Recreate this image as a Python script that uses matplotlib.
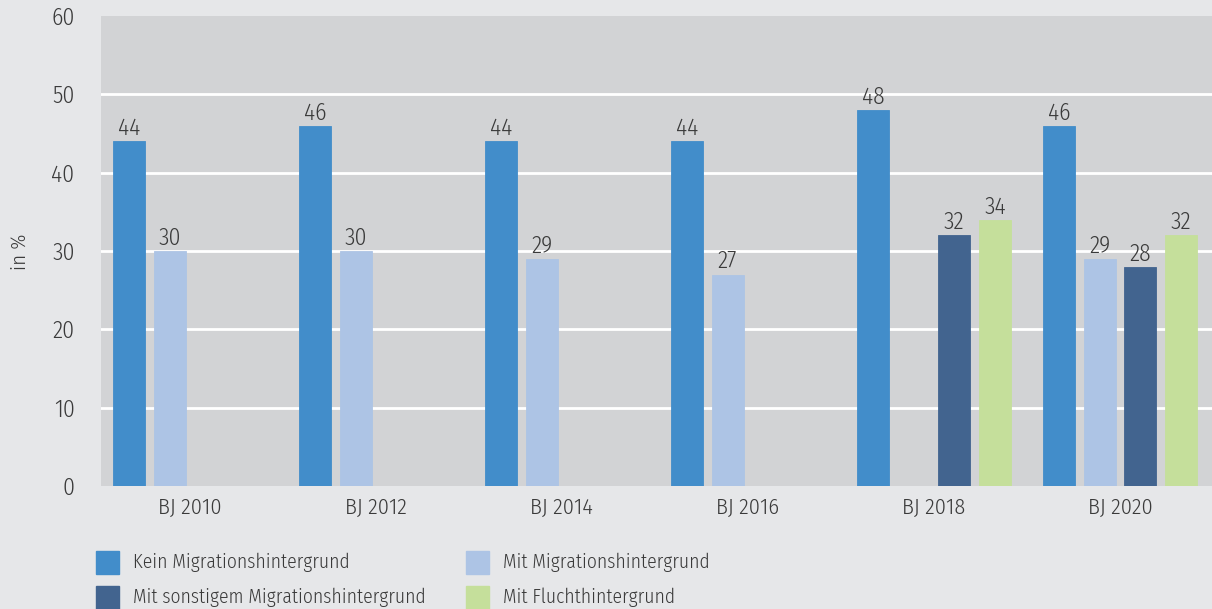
import numpy as np
import matplotlib
matplotlib.use("Agg")
import matplotlib.pyplot as plt
from matplotlib.patches import Rectangle

# data
years = ["BJ 2010", "BJ 2012", "BJ 2014", "BJ 2016", "BJ 2018", "BJ 2020"]
kein = [44, 46, 44, 44, 48, 46]
mit = [30, 30, 29, 27, np.nan, 29]
sonstig = [np.nan, np.nan, np.nan, np.nan, 32, 28]
flucht = [np.nan, np.nan, np.nan, np.nan, 34, 32]

series_names = ["Kein Migrationshintergrund", "Mit Migrationshintergrund",
                "Mit sonstigem Migrationshintergrund", "Mit Fluchthintergrund"]
series_colors = ["#428dca", "#adc4e5", "#42648f", "#c5df9b"]
yticks = [0, 10, 20, 30, 40, 50, 60]

plt.rcParams["font.family"] = ["Fira Sans Condensed", "DejaVu Sans"]
plt.rcParams["font.weight"] = 300
txt_col = "#3a3a3a"
fs_num = 17
fs_x = 16
fs_leg = 14

fig = plt.figure(figsize=(12.12, 6.09), dpi=100, facecolor="#e6e7e9")
ax = fig.add_axes([101/1212, 1-486/609, 1-101/1212, 470/609])
ax.set_facecolor("#d2d3d5")

x = np.arange(len(years))
slot = 0.219
bw = 0.172
all_series = [kein, mit, sonstig, flucht]

for yv in yticks[1:-1]:
    ax.axhline(yv, color="white", lw=2, zorder=1)

for i, (vals, col) in enumerate(zip(all_series, series_colors)):
    vals = np.array(vals, dtype=float)
    ok = ~np.isnan(vals)
    xs = x[ok] + (i - 1.5) * slot
    bars = ax.bar(xs, vals[ok], width=bw, color=col, zorder=2,
                  edgecolor=col, linewidth=0.6)
    ax.bar_label(bars, labels=[f"{v:.0f}" for v in vals[ok]], padding=1,
                 fontsize=fs_num, color=txt_col)

ax.set_ylim(0, 60)
ax.set_xlim(-0.478, 5.495)
ax.set_yticks(yticks)
ax.set_xticks(x)
ax.set_xticklabels(years)
ax.tick_params(axis="both", length=0, labelcolor=txt_col)
ax.tick_params(axis="y", pad=19, labelsize=fs_num)
ax.tick_params(axis="x", pad=8, labelsize=fs_x)
for s in ax.spines.values():
    s.set_visible(False)

fig.text(20/1212, 1-252/609, "in %", rotation=90, ha="center", va="center",
         fontsize=fs_leg + 1, color=txt_col)

# legend (drawn by hand, 2 columns)
leg_pos = [(96, 562), (466, 562), (96, 597), (466, 597)]
for (px, py), name, col in zip(leg_pos, series_names, series_colors):
    fig.add_artist(Rectangle((px/1212, 1-(py+11.5)/609), 23/1212, 23/609,
                             transform=fig.transFigure, color=col))
    fig.text((px+37)/1212, 1-py/609, name, ha="left", va="center",
             fontsize=fs_leg, color=txt_col)

fig.savefig("out.png", dpi=100, facecolor=fig.get_facecolor())
